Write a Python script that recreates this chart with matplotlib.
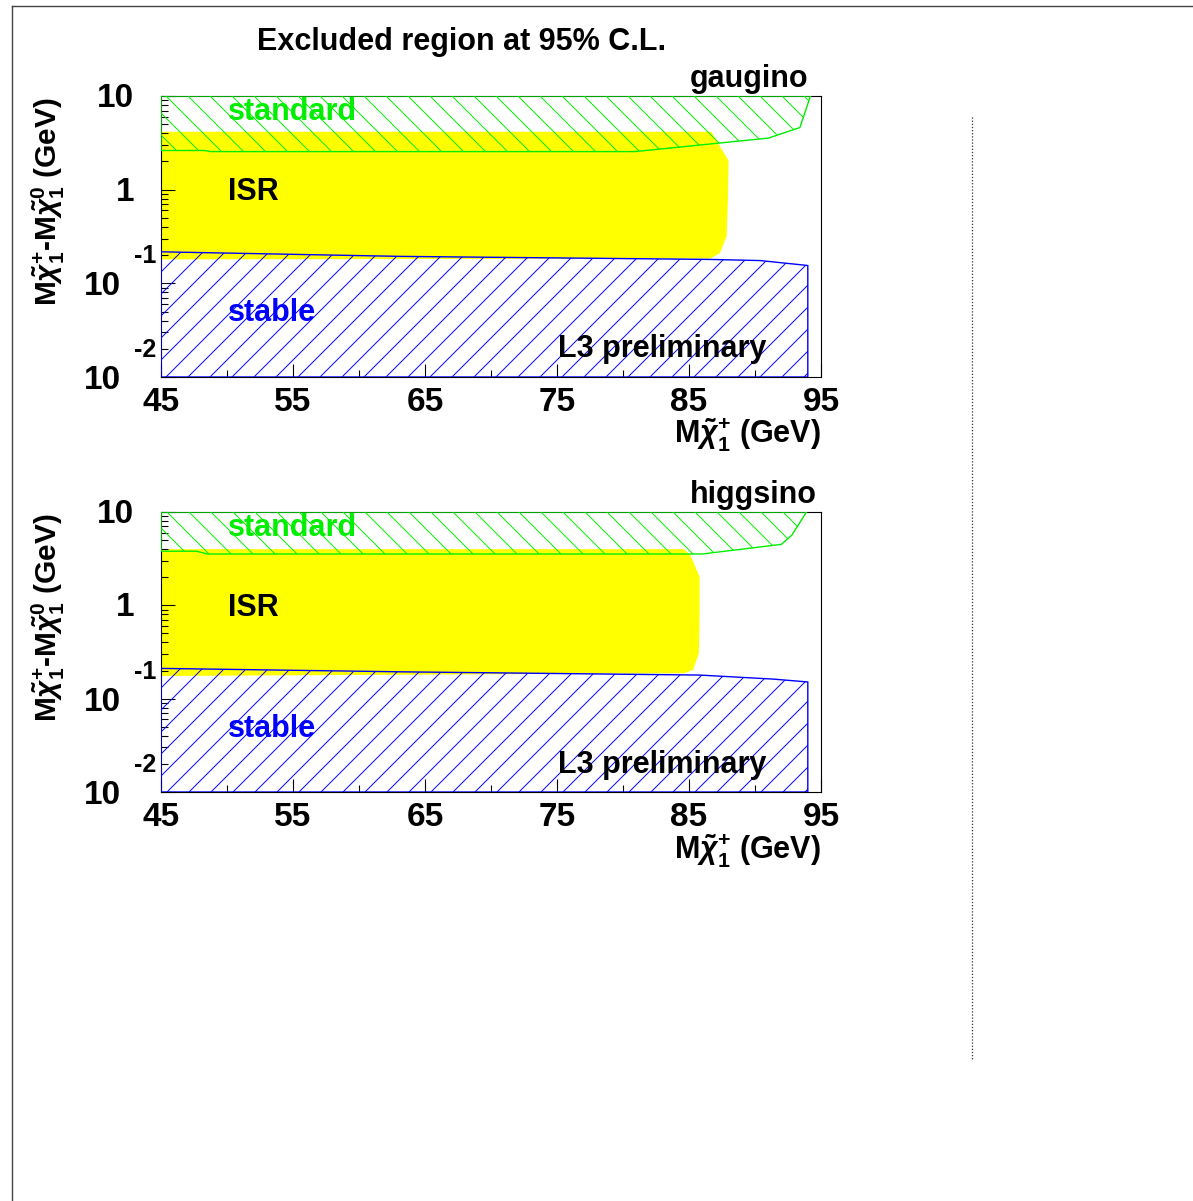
import matplotlib
matplotlib.use("Agg")
import matplotlib.pyplot as plt
import numpy as np
from matplotlib.patches import Polygon
from matplotlib.collections import LineCollection
from matplotlib.lines import Line2D
from matplotlib.ticker import LogLocator, NullFormatter, FixedLocator

plt.rcParams['font.family'] = ['Liberation Sans', 'DejaVu Sans']
plt.rcParams['font.weight'] = 'bold'
plt.rcParams['mathtext.fontset'] = 'custom'
plt.rcParams['mathtext.rm'] = 'Liberation Sans:bold'
plt.rcParams['mathtext.it'] = 'Liberation Sans:italic:bold'
plt.rcParams['mathtext.bf'] = 'Liberation Sans:bold'

# ---- axis definitions ----
x_range = [45, 95]
y_range = [0.01, 10]
x_major = [45, 55, 65, 75, 85, 95]
x_minor = [50, 60, 70, 80, 90]
y_major = [10, 1, 0.1, 0.01]
y_base_labels = ["10", "1", "10", "10"]
y_exp_labels = ["", "", "-1", "-2"]

# ---- gaugino scenario: excluded regions (M_chi+ [GeV], delta M [GeV]) ----
gaugino_standard_x = [45, 94.2, 93.4, 91.0, 80.9, 48.8, 48.3, 45]
gaugino_standard_y = [10, 10, 4.6, 3.55, 2.55, 2.55, 2.62, 2.62]
gaugino_isr_x = [45, 86.7, 87.35, 88.0, 87.95, 87.85, 87.35, 86.6, 45]
gaugino_isr_y = [4.15, 4.15, 2.89, 2.03, 0.79, 0.318, 0.211, 0.184, 0.18]
gaugino_stable_x = [45, 63.1, 86.6, 90.4, 94.0, 94.0, 45]
gaugino_stable_y = [0.217, 0.194, 0.18, 0.175, 0.155, 0.01, 0.01]

# ---- higgsino scenario ----
higgsino_standard_x = [45, 93.9, 92.8, 92.0, 86.0, 48.5, 47.7, 45]
higgsino_standard_y = [10, 10, 5.67, 4.5, 3.55, 3.55, 3.8, 3.8]
higgsino_isr_x = [45, 84.6, 85.1, 85.8, 85.8, 85.75, 85.3, 84.6, 45]
higgsino_isr_y = [4.0, 4.0, 3.46, 2.03, 0.8, 0.306, 0.203, 0.187, 0.175]
higgsino_stable_x = [45, 63.1, 85.8, 91.4, 94.0, 94.0, 45]
higgsino_stable_y = [0.211, 0.194, 0.179, 0.162, 0.151, 0.01, 0.01]

GREEN = '#00ee00'
BLUE = '#0000ff'
YELLOW = '#ffff00'

FW, FH = 1193, 1201
fig = plt.figure(figsize=(FW / 100, FH / 100), dpi=100)

AX_L, AX_W = 161, 660
panels = [
    dict(top=96, h=281, name="gaugino",
         std=(gaugino_standard_x, gaugino_standard_y),
         isr=(gaugino_isr_x, gaugino_isr_y),
         stb=(gaugino_stable_x, gaugino_stable_y)),
    dict(top=512, h=280, name="higgsino",
         std=(higgsino_standard_x, higgsino_standard_y),
         isr=(higgsino_isr_x, higgsino_isr_y),
         stb=(higgsino_stable_x, higgsino_stable_y)),
]

PT = 0.72  # points per pixel at 100 dpi


def hatch(ax, patch, direction, color, w_px, h_px, spacing_px=22):
    """Fill a patch with 45-degree lines, clipped to the patch outline."""
    s = spacing_px / w_px
    k = h_px / w_px
    offs = np.arange(-k - s, 1 + s, s)
    if direction == '/':
        segs = [[(c, 0), (c + k, 1)] for c in offs]
    else:
        segs = [[(c, 1), (c + k, 0)] for c in offs]
    lc = LineCollection(segs, colors=color, linewidths=0.7,
                        transform=ax.transAxes, zorder=3)
    lc.set_clip_path(patch)
    ax.add_collection(lc, autolim=False)


def fx(px):
    return px / FW


def fy(py):
    return 1 - py / FH


for p in panels:
    top, h = p['top'], p['h']
    ax = fig.add_axes([fx(AX_L), fy(top + h), AX_W / FW, h / FH])
    ax.set_xlim(*x_range)
    ax.set_yscale('log')
    ax.set_ylim(*y_range)

    # ISR region (solid yellow)
    isr = Polygon(np.column_stack(p['isr']), closed=True, facecolor=YELLOW,
                  edgecolor='none', zorder=1)
    ax.add_patch(isr)

    # standard region (green hatch)
    std = Polygon(np.column_stack(p['std']), closed=True, facecolor='none',
                  edgecolor=GREEN, lw=1.0, zorder=4)
    ax.add_patch(std)
    hatch(ax, std, '\\', GREEN, AX_W, h)

    # stable region (blue hatch)
    stb = Polygon(np.column_stack(p['stb']), closed=True, facecolor='none',
                  edgecolor=BLUE, lw=1.0, zorder=4)
    ax.add_patch(stb)
    hatch(ax, stb, '/', BLUE, AX_W, h)

    for sp in ax.spines.values():
        sp.set_color('black')
        sp.set_linewidth(0.8)
        sp.set_zorder(2)

    # ticks
    ax.xaxis.set_major_locator(FixedLocator(x_major))
    ax.xaxis.set_minor_locator(FixedLocator(x_minor))
    ax.set_xticklabels([str(v) for v in x_major], fontsize=24, fontweight='bold')
    ax.tick_params(axis='x', which='major', direction='in', length=9.5,
                   width=0.8, pad=7, top=False)
    ax.tick_params(axis='x', which='minor', direction='in', length=5,
                   width=0.8, top=False)
    ax.yaxis.set_major_locator(FixedLocator(y_major))
    ax.yaxis.set_minor_locator(LogLocator(base=10, subs=np.arange(2, 10)))
    ax.yaxis.set_major_formatter(NullFormatter())
    ax.yaxis.set_minor_formatter(NullFormatter())
    ax.tick_params(axis='y', which='major', direction='in', length=10,
                   width=0.8, right=False)
    ax.tick_params(axis='y', which='minor', direction='in', length=5,
                   width=0.8, right=False)

    # y tick labels in "10 with raised exponent" form
    for v, base, ex in zip(y_major, y_base_labels, y_exp_labels):
        if ex:
            ax.annotate(base, xy=(0, v), xycoords=('axes fraction', 'data'),
                        xytext=(-40 * PT, -12 * PT), textcoords='offset points',
                        ha='right', va='baseline', fontsize=24, fontweight='bold')
            ax.annotate(ex, xy=(0, v), xycoords=('axes fraction', 'data'),
                        xytext=(-27 * PT, 20 * PT), textcoords='offset points',
                        ha='left', va='baseline', fontsize=18, fontweight='bold')
        else:
            ax.annotate(base, xy=(0, v), xycoords=('axes fraction', 'data'),
                        xytext=(-27 * PT, -11 * PT), textcoords='offset points',
                        ha='right', va='baseline', fontsize=24, fontweight='bold')

    # axis titles
    ax.annotate(r"M$\tilde{\chi}^{+}_{1}$ (GeV)", xy=(1, 0),
                xycoords='axes fraction', xytext=(0, -67 * PT),
                textcoords='offset points', ha='right', va='baseline',
                fontsize=22, fontweight='bold')
    ax.annotate(r"M$\tilde{\chi}^{+}_{1}$-M$\tilde{\chi}^{0}_{1}$ (GeV)",
                xy=(0, 1), xycoords='axes fraction',
                xytext=(-104 * PT, -1 * PT), textcoords='offset points',
                ha='right', va='baseline', rotation=90, rotation_mode='anchor',
                fontsize=21.5, fontweight='bold')

    # region labels
    fig.text(fx(228), fy(top + 24), "standard", color=GREEN, fontsize=22,
             fontweight='bold', ha='left', va='baseline', zorder=10)
    fig.text(fx(228), fy(top + 104), "ISR", color='black', fontsize=22,
             fontweight='bold', ha='left', va='baseline', zorder=10)
    fig.text(fx(228), fy(top + 225), "stable", color=BLUE, fontsize=22,
             fontweight='bold', ha='left', va='baseline', zorder=10)
    fig.text(fx(558), fy(top + 261), "L3 preliminary", color='black',
             fontsize=22, fontweight='bold', ha='left', va='baseline', zorder=10)
    fig.text(fx(690), fy(top - 9), p['name'], color='black', fontsize=22,
             fontweight='bold', ha='left', va='baseline')

fig.text(fx(462), fy(50), "Excluded region at 95% C.L.", fontsize=22,
         fontweight='bold', ha='center', va='baseline')

# canvas frame and pad separator
fig.add_artist(Line2D([fx(12), fx(FW)], [fy(6), fy(6)], color='#444444', lw=1.0,
                      transform=fig.transFigure))
fig.add_artist(Line2D([fx(12), fx(12)], [fy(6), fy(FH)], color='#444444', lw=1.0,
                      transform=fig.transFigure))
fig.add_artist(Line2D([fx(972), fx(972)], [fy(117), fy(1060)], color='#333333',
                      lw=0.9, ls=(0, (1, 1.5)), transform=fig.transFigure))

fig.savefig("out.png", dpi=100)
